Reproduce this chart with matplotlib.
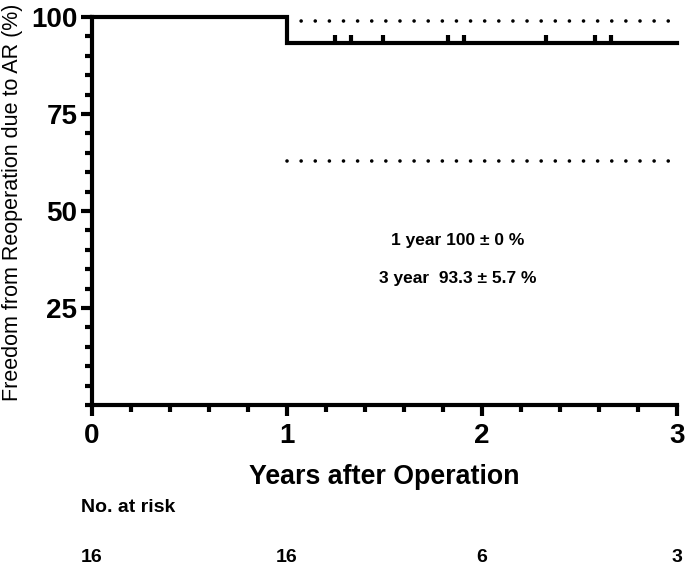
import matplotlib
matplotlib.use("Agg")
import matplotlib.pyplot as plt
from matplotlib.ticker import MultipleLocator, FixedLocator
import matplotlib.transforms as mtransforms

plt.rcParams['font.family'] = ['Liberation Sans', 'DejaVu Sans']

# Data
km_time = [0.0, 1.0, 3.0]
km_surv = [100.0, 93.3, 93.3]
censor_time = [1.246, 1.326, 1.494, 1.828, 1.908, 2.327, 2.579, 2.660]
censor_surv = [93.3] * len(censor_time)
ci_time = [1.0, 3.0]
ci_upper = [99.0, 99.0]
ci_lower = [63.0, 63.0]
x_ticks = [0, 1, 2, 3]
y_ticks = [25, 50, 75, 100]
risk_time = [0, 1, 2, 3]
risk_n = [16, 16, 6, 3]
annotations = ["1 year 100 \u00b1 0 %", "3 year  93.3 \u00b1 5.7 %"]

fig = plt.figure(figsize=(6.85, 5.71), dpi=100)
ax = fig.add_axes([92/685, 1-405/571, (677-92)/685, (405-17)/571])

ax.plot(km_time, km_surv, drawstyle='steps-post', color='black', lw=3.0,
        solid_joinstyle='miter', clip_on=False, zorder=3)
ax.plot(censor_time, censor_surv, linestyle='none', marker=2, markersize=5.5,
        mew=3.0, color='black', clip_on=False, zorder=3)
for ci in (ci_upper, ci_lower):
    ax.plot(ci_time, ci, color='black', lw=2.6, linestyle=(0, (0.01, 3.9)),
            dash_capstyle='round', clip_on=False, zorder=2)

ax.set_xlim(0, 3)
ax.set_ylim(0, 100)
for s in ('top', 'right'):
    ax.spines[s].set_visible(False)
for s in ('left', 'bottom'):
    ax.spines[s].set_linewidth(3.0)

ax.xaxis.set_major_locator(FixedLocator(x_ticks))
ax.xaxis.set_minor_locator(MultipleLocator(0.2))
ax.yaxis.set_major_locator(FixedLocator(y_ticks))
ax.yaxis.set_minor_locator(MultipleLocator(5))
ax.tick_params(which='major', length=8, width=3.0, direction='out')
ax.tick_params(which='minor', length=5, width=3.0, direction='out')
ax.tick_params(axis='x', which='major', pad=5)
ax.tick_params(axis='y', which='major', pad=2.5)
ax.set_xticklabels([str(v) for v in x_ticks], fontsize=20, fontweight='bold')
ax.set_yticklabels([str(v) for v in y_ticks], fontsize=20, fontweight='bold')

fig.text(13/685, 1-202/571, "Freedom from Reoperation due to AR (%)", rotation=90,
         ha='center', va='center', fontsize=15.5)
fig.text((92+677)/2/685, 1-477/571, "Years after Operation", ha='center', va='center',
         fontsize=19.3, fontweight='bold')
fig.text(81/685, 1-507/571, "No. at risk", ha='left', va='center', fontsize=14,
         fontweight='bold')

trans = mtransforms.blended_transform_factory(ax.transData, fig.transFigure)
for t, n in zip(risk_time, risk_n):
    ax.text(t, 1-558/571, str(n), transform=trans, ha='center', va='center',
            fontsize=14, fontweight='bold', clip_on=False)

ax.text(1.877, 42.3, annotations[0], ha='center', va='center', fontsize=12.5,
        fontweight='bold')
ax.text(1.877, 32.5, annotations[1], ha='center', va='center', fontsize=12.5,
        fontweight='bold')

fig.savefig("out.png", dpi=100)
